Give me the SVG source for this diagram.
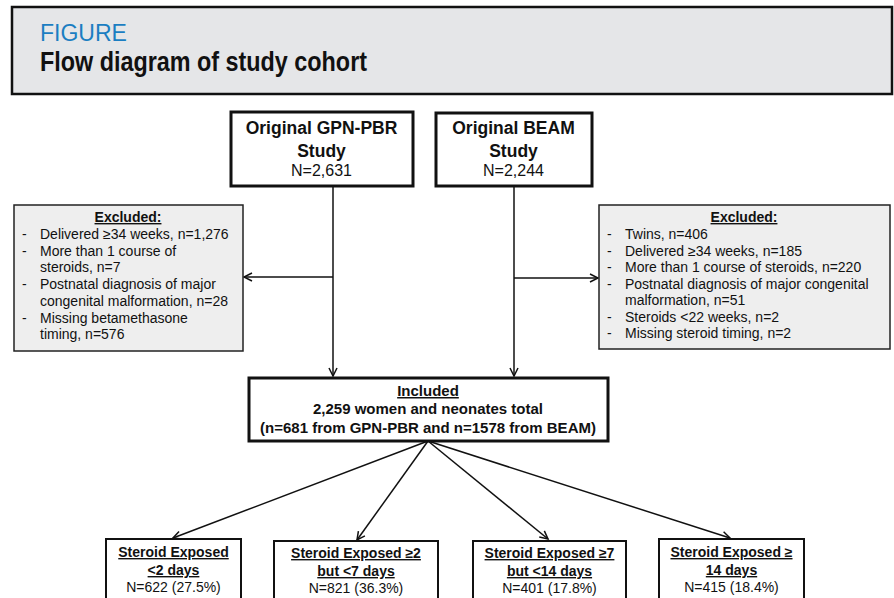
<svg xmlns="http://www.w3.org/2000/svg" width="894" height="598" viewBox="0 0 894 598">
<style>
text{font-family:"Liberation Sans",Arial,sans-serif;fill:#111}
.b{font-weight:bold}
.u{text-decoration:underline}
.c{text-anchor:middle}
.ex{font-size:14px}
.main{fill:#fff;stroke:#111;stroke-width:3}
.excl{fill:#eeeeee;stroke:#222;stroke-width:1.5}
.grp{fill:#fff;stroke:#111;stroke-width:2}
.conn{stroke:#111;stroke-width:1.5;fill:none}
</style>
<defs>
<marker id="ah" markerUnits="userSpaceOnUse" markerWidth="12" markerHeight="12" refX="9" refY="5" orient="auto">
<path d="M1,1 L9,5 L1,9" fill="none" stroke="#111" stroke-width="1.5"/>
</marker>
</defs>
<g id="header">
<rect x="12" y="7" width="880" height="87" fill="#e5e6e8" stroke="#111" stroke-width="2.5"/>
<text x="40" y="41" style="font-size:23px;fill:#1b7ec2">FIGURE</text>
<text x="40" y="71" class="b" style="font-size:27px" textLength="327" lengthAdjust="spacingAndGlyphs">Flow diagram of study cohort</text>
</g>
<g id="connectors">
<line class="conn" x1="333" y1="186" x2="333" y2="376" marker-end="url(#ah)"/>
<line class="conn" x1="514" y1="186" x2="514" y2="376" marker-end="url(#ah)"/>
<line class="conn" x1="333" y1="277" x2="244" y2="277" marker-end="url(#ah)"/>
<line class="conn" x1="514" y1="278" x2="598" y2="278" marker-end="url(#ah)"/>
<line class="conn" x1="428" y1="441" x2="173" y2="538" marker-end="url(#ah)"/>
<line class="conn" x1="428" y1="441" x2="357" y2="540" marker-end="url(#ah)"/>
<line class="conn" x1="428" y1="441" x2="548" y2="539" marker-end="url(#ah)"/>
<line class="conn" x1="428" y1="441" x2="730" y2="538" marker-end="url(#ah)"/>
</g>
<g id="gpn">
<rect class="main" x="231" y="112" width="182" height="74"/>
<text class="b c" x="321.5" y="134" style="font-size:17.5px">Original GPN-PBR</text>
<text class="b c" x="321.5" y="157" style="font-size:17.5px">Study</text>
<text class="c" x="321.5" y="176" style="font-size:16px">N=2,631</text>
</g>
<g id="beam">
<rect class="main" x="436" y="113" width="156" height="73"/>
<text class="b c" x="513.5" y="134" style="font-size:17.5px">Original BEAM</text>
<text class="b c" x="513.5" y="157" style="font-size:17.5px">Study</text>
<text class="c" x="513.5" y="176" style="font-size:16px">N=2,244</text>
</g>
<g id="excl-left">
<rect class="excl" x="14" y="205" width="229" height="146"/>
<text class="b u c ex" x="128" y="222">Excluded:</text>
<g class="ex">
<text class="ex" x="22" y="239">-</text><text class="ex" x="40" y="239">Delivered ≥34 weeks, n=1,276</text>
<text class="ex" x="22" y="255.7">-</text><text class="ex" x="40" y="255.7">More than 1 course of</text>
<text class="ex" x="40" y="272.4">steroids, n=7</text>
<text class="ex" x="22" y="289.1">-</text><text class="ex" x="40" y="289.1">Postnatal diagnosis of major</text>
<text class="ex" x="40" y="305.8">congenital malformation, n=28</text>
<text class="ex" x="22" y="322.5">-</text><text class="ex" x="40" y="322.5">Missing betamethasone</text>
<text class="ex" x="40" y="339.2">timing, n=576</text>
</g>
</g>
<g id="excl-right">
<rect class="excl" x="599" y="205" width="291" height="144"/>
<text class="b u c ex" x="744" y="222">Excluded:</text>
<text class="ex" x="607" y="239">-</text><text class="ex" x="625" y="239">Twins, n=406</text>
<text class="ex" x="607" y="255.5">-</text><text class="ex" x="625" y="255.5">Delivered ≥34 weeks, n=185</text>
<text class="ex" x="607" y="272">-</text><text class="ex" x="625" y="272">More than 1 course of steroids, n=220</text>
<text class="ex" x="607" y="288.5">-</text><text class="ex" x="625" y="288.5">Postnatal diagnosis of major congenital</text>
<text class="ex" x="625" y="305">malformation, n=51</text>
<text class="ex" x="607" y="321.5">-</text><text class="ex" x="625" y="321.5">Steroids &lt;22 weeks, n=2</text>
<text class="ex" x="607" y="338">-</text><text class="ex" x="625" y="338">Missing steroid timing, n=2</text>
</g>
<g id="included">
<rect class="main" x="249" y="378" width="359" height="63"/>
<text class="b u c" x="428" y="396" style="font-size:15px">Included</text>
<text class="b c" x="428" y="414" style="font-size:15px">2,259 women and neonates total</text>
<text class="b c" x="428" y="433" style="font-size:15px">(n=681 from GPN-PBR and n=1578 from BEAM)</text>
</g>
<g id="grp1">
<rect class="grp" x="106" y="539" width="135" height="70"/>
<text class="b u c ex" x="173.5" y="557">Steroid Exposed</text>
<text class="b u c ex" x="173.5" y="575">&lt;2 days</text>
<text class="c ex" x="173.5" y="592">N=622 (27.5%)</text>
</g>
<g id="grp2">
<rect class="grp" x="274" y="541" width="164" height="70"/>
<text class="b u c ex" x="356" y="558">Steroid Exposed ≥2</text>
<text class="b u c ex" x="356" y="576">but &lt;7 days</text>
<text class="c ex" x="356" y="593">N=821 (36.3%)</text>
</g>
<g id="grp3">
<rect class="grp" x="473" y="541" width="153" height="70"/>
<text class="b u c ex" x="549.5" y="558">Steroid Exposed ≥7</text>
<text class="b u c ex" x="549.5" y="576">but &lt;14 days</text>
<text class="c ex" x="549.5" y="593">N=401 (17.8%)</text>
</g>
<g id="grp4">
<rect class="grp" x="659" y="539" width="145" height="70"/>
<text class="b u c ex" x="731.5" y="557">Steroid Exposed ≥</text>
<text class="b u c ex" x="731.5" y="575">14 days</text>
<text class="c ex" x="731.5" y="592">N=415 (18.4%)</text>
</g>
</svg>
